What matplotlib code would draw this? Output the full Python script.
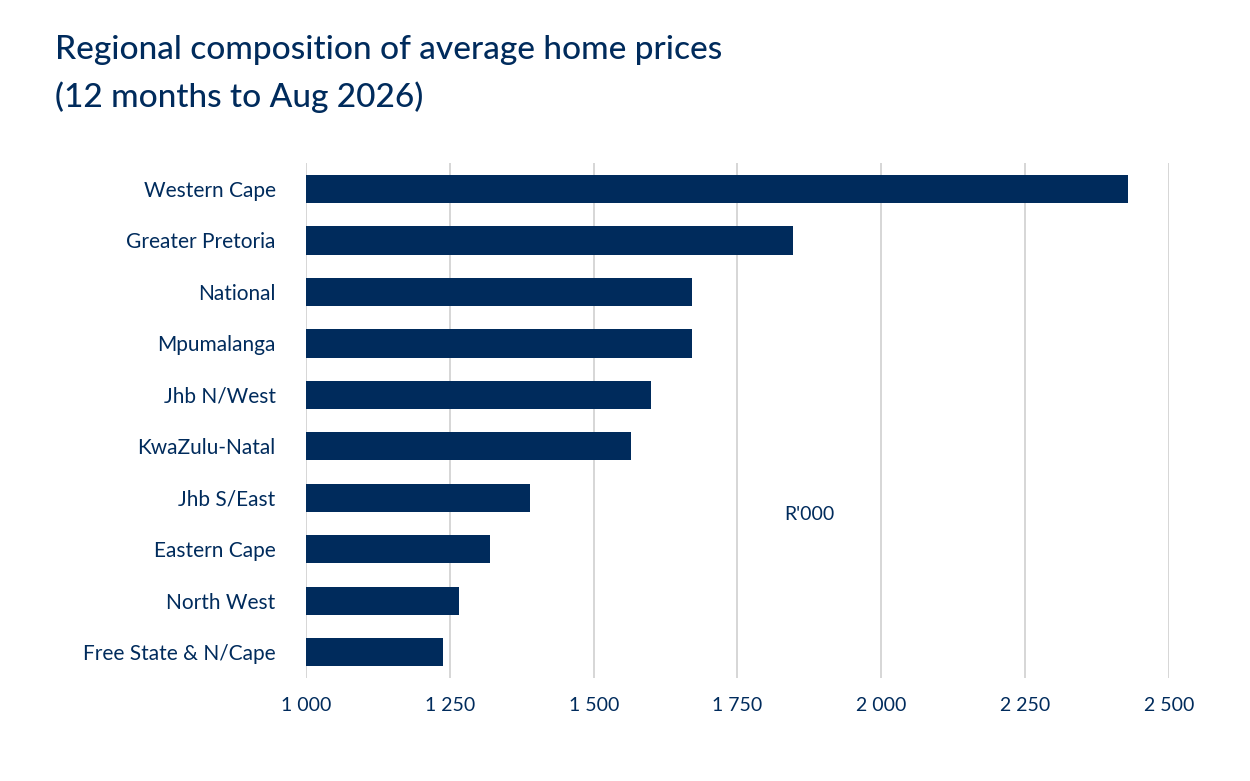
import matplotlib
matplotlib.use("Agg")
import matplotlib.pyplot as plt

regions = ["Western Cape", "Greater Pretoria", "National", "Mpumalanga", "Jhb N/West",
           "KwaZulu-Natal", "Jhb S/East", "Eastern Cape", "North West", "Free State & N/Cape"]
prices = [2429, 1847, 1671, 1670, 1600, 1565, 1389, 1320, 1266, 1238]
ticks = [1000, 1250, 1500, 1750, 2000, 2250, 2500]
tick_labels = ["1 000", "1 250", "1 500", "1 750", "2 000", "2 250", "2 500"]

navy = "#002B5C"
plt.rcParams['font.family'] = ['Lato', 'DejaVu Sans']
fig = plt.figure(figsize=(12.5, 7.81), dpi=100)
ax = fig.add_axes([0.245, 0.132, 0.69, 0.659])
y = list(range(len(regions)))
ax.barh(y, [p - 1000 for p in prices], left=1000, height=0.55, color=navy, zorder=3)
ax.set_ylim(len(regions) - 0.5, -0.5)
ax.set_xlim(1000, 2500)
ax.set_yticks(y)
ax.set_yticklabels(regions, fontsize=15, color=navy)
ax.set_xticks(ticks)
ax.set_xticklabels(tick_labels, fontsize=14, color=navy)
ax.grid(axis='x', color='#d0d0d0', linewidth=1.2, zorder=0)
for s in ax.spines.values():
    s.set_visible(False)
ax.tick_params(length=0, pad=22)
ax.tick_params(axis='y', pad=22)
ax.tick_params(axis='x', pad=14)
ax.text(0.583, 0.318, "R'000", transform=ax.transAxes, fontsize=14, color=navy,
        ha='center', va='center')
fig.text(0.044, 0.936, "Regional composition of average home prices", fontsize=24,
         color=navy, fontweight='medium', va='center')
fig.text(0.044, 0.875, "(12 months to Aug 2026)", fontsize=24, color=navy,
         fontweight='medium', va='center')
fig.savefig("out.png", dpi=100)
